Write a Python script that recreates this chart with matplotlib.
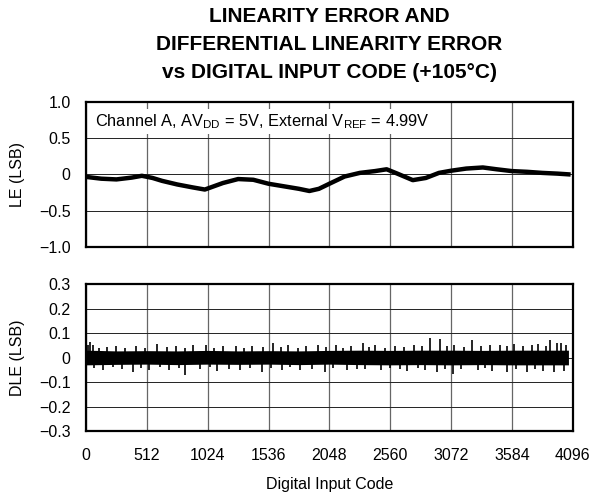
import numpy as np
import matplotlib
matplotlib.use("Agg")
import matplotlib.pyplot as plt

plt.rcParams['font.family'] = ['Liberation Sans', 'DejaVu Sans']
plt.rcParams['mathtext.fontset'] = 'custom'
plt.rcParams['mathtext.rm'] = 'Liberation Sans'

#LE trace, centre of the noisy line
le_codes = [0, 128, 256, 384, 470, 560, 640, 768, 896, 1000, 1152, 1280, 1408, 1536,
            1664, 1792, 1880, 1960, 2048, 2176, 2304, 2432, 2530, 2620, 2750,
            2860, 2970, 3072, 3200, 3340, 3456, 3584, 3712, 3840, 3968, 4060]
le_vals = [-0.035, -0.06, -0.07, -0.045, -0.02, -0.05, -0.09, -0.14, -0.18, -0.21,
           -0.12, -0.065, -0.075, -0.13, -0.165, -0.2, -0.23, -0.2, -0.13, -0.03,
           0.02, 0.045, 0.07, 0.01, -0.08, -0.05, 0.02, 0.05, 0.08, 0.095, 0.07,
           0.045, 0.035, 0.02, 0.01, 0.0]

#DLE dense band edges
dle_codes = [0, 256, 512, 768, 1024, 1280, 1536, 1792, 2048, 2304, 2560, 2816,
             3072, 3328, 3584, 3840, 4060]
dle_hi = [0.03, 0.027, 0.028, 0.027, 0.029, 0.027, 0.028, 0.027, 0.029, 0.03, 0.029,
          0.03, 0.03, 0.029, 0.03, 0.03, 0.03]
dle_lo = [-0.03, -0.028, -0.027, -0.029, -0.027, -0.028, -0.027, -0.029, -0.027,
          -0.029, -0.03, -0.029, -0.03, -0.029, -0.03, -0.03, -0.03]

#single code spikes sticking out of the band
spike_codes = [20, 34, 60, 110, 180, 250, 330, 420, 500, 595, 680, 760, 830, 900,
               1010, 1080, 1150, 1260, 1330, 1400, 1490, 1576, 1640, 1700, 1780,
               1850, 1950, 2020, 2100, 2160, 2230, 2334, 2380, 2432, 2520, 2600,
               2680, 2760, 2830, 2895, 2979, 3040, 3100, 3180, 3246, 3320, 3400,
               3480, 3540, 3600, 3680, 3750, 3800, 3870, 3905, 3960, 4000, 4040]
spike_hi = [0.05, 0.065, 0.05, 0.04, 0.042, 0.045, 0.04, 0.048, 0.04, 0.055, 0.042,
            0.045, 0.04, 0.05, 0.05, 0.04, 0.045, 0.048, 0.04, 0.045, 0.042, 0.06,
            0.042, 0.05, 0.04, 0.045, 0.05, 0.042, 0.05, 0.04, 0.048, 0.06, 0.042,
            0.05, 0.04, 0.045, 0.042, 0.05, 0.045, 0.078, 0.075, 0.045, 0.05, 0.042,
            0.07, 0.045, 0.05, 0.052, 0.045, 0.055, 0.045, 0.05, 0.055, 0.048, 0.07,
            0.058, 0.06, 0.05]
spike_lo_codes = [70, 145, 230, 300, 396, 460, 530, 620, 700, 780, 833, 960, 1040,
                  1100, 1200, 1300, 1380, 1480, 1560, 1650, 1720, 1800, 1900, 2011,
                  2080, 2200, 2280, 2350, 2480, 2560, 2640, 2700, 2790, 2850, 2950,
                  3020, 3089, 3160, 3300, 3360, 3420, 3541, 3620, 3709, 3780, 3850,
                  3940, 4020]
spike_lo = [-0.042, -0.05, -0.04, -0.045, -0.058, -0.042, -0.05, -0.04, -0.05,
            -0.042, -0.07, -0.048, -0.04, -0.055, -0.045, -0.05, -0.042, -0.06,
            -0.042, -0.05, -0.04, -0.05, -0.045, -0.06, -0.042, -0.05, -0.045,
            -0.048, -0.05, -0.042, -0.045, -0.055, -0.042, -0.05, -0.06, -0.045,
            -0.067, -0.045, -0.05, -0.042, -0.055, -0.06, -0.045, -0.06, -0.048,
            -0.055, -0.058, -0.055]

x_ticks = [0, 512, 1024, 1536, 2048, 2560, 3072, 3584, 4096]
le_ticks = [-1.0, -0.5, 0, 0.5, 1.0]
le_labels = ['\u22121.0', '\u22120.5', '0', '0.5', '1.0']
dle_ticks = [-0.3, -0.2, -0.1, 0, 0.1, 0.2, 0.3]
dle_labels = ['\u22120.3', '\u22120.2', '\u22120.1', '0', '0.1', '0.2', '0.3']

fig = plt.figure(figsize=(5.9, 5.01), dpi=100)
ax1 = fig.add_axes([0.1458, 0.5076, 0.8249, 0.2888])
ax2 = fig.add_axes([0.1458, 0.1397, 0.8249, 0.2934])

def style_axes(ax, yticks, ylabels, ylim):
    ax.set_xlim(0, 4096)
    ax.set_ylim(*ylim)
    ax.set_xticks(x_ticks)
    ax.set_yticks(yticks)
    ax.set_yticklabels(ylabels)
    ax.tick_params(length=0, labelsize=11.5, pad=11)
    ax.xaxis.grid(True, color='#666666', linewidth=0.9)
    ax.yaxis.grid(True, color='#222222', linewidth=0.7)
    ax.set_axisbelow(True)
    for sp in ax.spines.values():
        sp.set_linewidth(1.6)

style_axes(ax1, le_ticks, le_labels, (-1.0, 1.0))
ax1.set_xticklabels([])
ax1.plot(le_codes, le_vals, color='black', linewidth=3.2, solid_joinstyle='round')
ax1.text(76, 0.73, r"Channel A, AV$_{\rm DD}$ = 5V, External V$_{\rm REF}$ = 4.99V",
         fontsize=11.8, va='center', ha='left',
         bbox=dict(facecolor='white', edgecolor='none', pad=2))
ax1.set_ylabel("LE (LSB)", fontsize=11.5)
ax1.yaxis.set_label_coords(-0.125, 0.5)

style_axes(ax2, dle_ticks, dle_labels, (-0.3, 0.3))
ax2.fill_between(dle_codes, dle_lo, dle_hi, color='black', linewidth=0)
ax2.vlines(spike_codes, 0, spike_hi, color='black', linewidth=1.2)
ax2.vlines(spike_lo_codes, spike_lo, 0, color='black', linewidth=1.2)
ax2.set_ylabel("DLE (LSB)", fontsize=11.5)
ax2.yaxis.set_label_coords(-0.125, 0.5)
ax2.tick_params(axis='x', pad=12)

xc = ax2.get_position().x0 + ax2.get_position().width / 2
fig.text(xc, 1 - 17 / 501, "LINEARITY ERROR AND", ha='center', va='center',
         fontsize=15, fontweight='bold')
fig.text(xc, 1 - 45 / 501, "DIFFERENTIAL LINEARITY ERROR", ha='center', va='center',
         fontsize=15, fontweight='bold')
fig.text(xc, 1 - 73 / 501, "vs DIGITAL INPUT CODE (+105\u00b0C)", ha='center',
         va='center', fontsize=15, fontweight='bold')
fig.text(xc, 1 - 485 / 501, "Digital Input Code", ha='center', va='center',
         fontsize=11.5)

fig.savefig("out.png", dpi=100)
